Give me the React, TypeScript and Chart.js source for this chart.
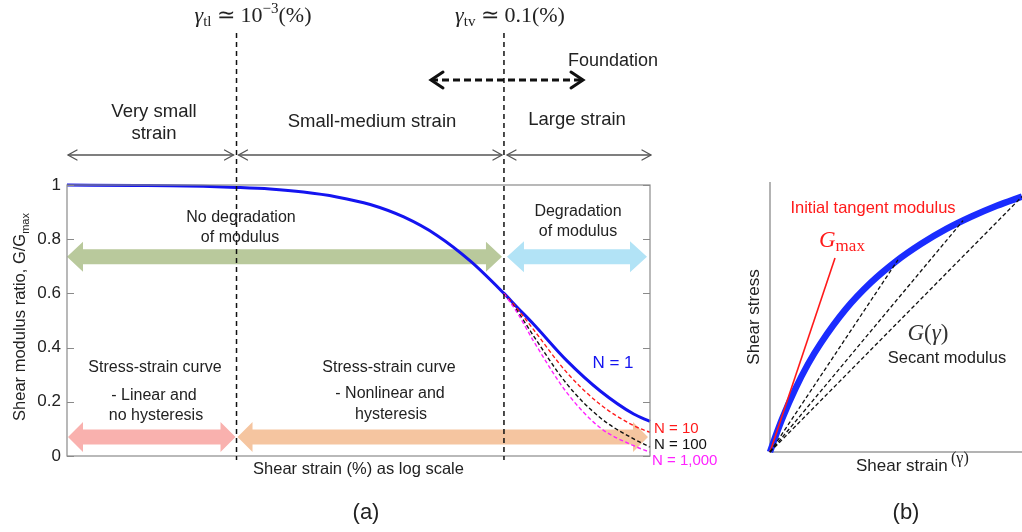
import { useEffect, useRef } from "react";
import { Chart, registerables } from "chart.js";

Chart.register(...registerables);

// ---------- Panel (a): modulus degradation curve, strain in % (log axis) ----------
const strainMin = 5.4e-5;
const strainMax = 1.236;
const strainN1 = [5.4e-5, 1.78e-4, 3.16e-4, 5.62e-4, 1e-3, 1.78e-3, 3.16e-3, 5.62e-3, 0.01, 0.0178, 0.0316, 0.0562, 0.1, 0.126, 0.166, 0.295, 0.525, 0.933, 1.236];
const ratioN1 = [1.0, 0.998, 0.997, 0.995, 0.991, 0.985, 0.974, 0.956, 0.928, 0.882, 0.814, 0.719, 0.6, 0.548, 0.487, 0.352, 0.24, 0.155, 0.128];
const strainCyclic = [0.1, 0.126, 0.166, 0.295, 0.525, 0.933, 1.236];
const ratioN10 = [0.6, 0.543, 0.467, 0.308, 0.19, 0.112, 0.087];
const ratioN100 = [0.6, 0.535, 0.444, 0.266, 0.141, 0.063, 0.033];
const ratioN1000 = [0.6, 0.528, 0.425, 0.234, 0.104, 0.038, 0.014];
const ratioTicks = [0, 0.2, 0.4, 0.6, 0.8, 1];
const thresholdStrains = [1e-3, 0.1];

// ---------- Panel (b): backbone stress-strain curve ----------
const backboneStrain = [0, 0.025, 0.05, 0.1, 0.15, 0.2, 0.3, 0.4, 0.5, 0.6, 0.7, 0.8, 0.9, 1.0];
const backboneStress = [0, 0.066, 0.127, 0.233, 0.324, 0.401, 0.528, 0.627, 0.706, 0.771, 0.826, 0.872, 0.912, 0.946];
const tangentStrain = [0, 0.258];
const tangentStress = [0, 0.7185];
const secantStrain = [0.508, 0.766, 1.0];
const secantStress = [0.712, 0.857, 0.946];

const SANS = '"Liberation Sans", Arial, sans-serif';
const SERIF = '"Liberation Serif", "Times New Roman", serif';

type Part = { t: string; font: string; dy?: number; color?: string };

function richWidth(ctx: CanvasRenderingContext2D, parts: Part[]) {
  let w = 0;
  for (const p of parts) {
    ctx.font = p.font;
    w += ctx.measureText(p.t).width;
  }
  return w;
}

function drawRich(ctx: CanvasRenderingContext2D, parts: Part[], x: number, baseline: number, align: "center" | "left" = "center", color = "#222") {
  const total = richWidth(ctx, parts);
  let cx = align === "center" ? x - total / 2 : x;
  ctx.save();
  ctx.textAlign = "left";
  ctx.textBaseline = "alphabetic";
  for (const p of parts) {
    ctx.font = p.font;
    ctx.fillStyle = p.color || color;
    ctx.fillText(p.t, cx, baseline + (p.dy || 0));
    cx += ctx.measureText(p.t).width;
  }
  ctx.restore();
}

function text(ctx: CanvasRenderingContext2D, s: string, x: number, y: number, size: number, color = "#222", align: CanvasTextAlign = "center") {
  ctx.save();
  ctx.font = `${size}px ${SANS}`;
  ctx.fillStyle = color;
  ctx.textAlign = align;
  ctx.textBaseline = "middle";
  ctx.fillText(s, x, y);
  ctx.restore();
}

function fatArrow(ctx: CanvasRenderingContext2D, x1: number, x2: number, y: number, shaft: number, head: number, headLen: number, color: string) {
  const s = shaft / 2;
  const h = head / 2;
  ctx.save();
  ctx.fillStyle = color;
  ctx.beginPath();
  ctx.moveTo(x1, y);
  ctx.lineTo(x1 + headLen, y - h);
  ctx.lineTo(x1 + headLen, y - s);
  ctx.lineTo(x2 - headLen, y - s);
  ctx.lineTo(x2 - headLen, y - h);
  ctx.lineTo(x2, y);
  ctx.lineTo(x2 - headLen, y + h);
  ctx.lineTo(x2 - headLen, y + s);
  ctx.lineTo(x1 + headLen, y + s);
  ctx.lineTo(x1 + headLen, y + h);
  ctx.closePath();
  ctx.fill();
  ctx.restore();
}

function lineArrow(ctx: CanvasRenderingContext2D, x1: number, x2: number, y: number, len: number, spread: number, width: number, color: string, dash: number[] = []) {
  ctx.save();
  ctx.strokeStyle = color;
  ctx.lineWidth = width;
  ctx.setLineDash(dash);
  ctx.beginPath();
  ctx.moveTo(x1, y);
  ctx.lineTo(x2, y);
  ctx.stroke();
  ctx.setLineDash([]);
  ctx.lineCap = "round";
  ctx.lineJoin = "miter";
  ctx.beginPath();
  ctx.moveTo(x1 + len, y - spread);
  ctx.lineTo(x1, y);
  ctx.lineTo(x1 + len, y + spread);
  ctx.moveTo(x2 - len, y - spread);
  ctx.lineTo(x2, y);
  ctx.lineTo(x2 - len, y + spread);
  ctx.stroke();
  ctx.restore();
}

const A_WIDTH = 745;
const B_LEFT = 745;
const B_WIDTH = 1022 - B_LEFT;
const HEIGHT = 532;

const degradationDecor = {
  id: "degradationDecor",
  beforeDatasetsDraw(chart: any) {
    const ctx: CanvasRenderingContext2D = chart.ctx;
    const xs = chart.scales.x;
    const ys = chart.scales.y;
    const area = chart.chartArea;
    const xTl = xs.getPixelForValue(thresholdStrains[0]);
    const xTv = xs.getPixelForValue(thresholdStrains[1]);
    const yUpper = ys.getPixelForValue(0.735);
    const yLower = ys.getPixelForValue(0.07);
    fatArrow(ctx, area.left, xTv - 2, yUpper, 15, 30, 16, "#b9c99c");
    fatArrow(ctx, xTv + 3, area.right - 3, yUpper, 15, 31, 17, "#b2e3f6");
    fatArrow(ctx, area.left + 1, xTl - 1, yLower, 15, 30, 15, "#f9b1ae");
    fatArrow(ctx, xTl + 1, area.right - 2, yLower, 15, 30, 15, "#f5c5a0");
  },
  afterDatasetsDraw(chart: any) {
    const ctx: CanvasRenderingContext2D = chart.ctx;
    const xs = chart.scales.x;
    const ys = chart.scales.y;
    const area = chart.chartArea;
    const xTl = xs.getPixelForValue(thresholdStrains[0]);
    const xTv = xs.getPixelForValue(thresholdStrains[1]);

    // frame and inward tick marks
    ctx.save();
    ctx.strokeStyle = "#8a8a8a";
    ctx.lineWidth = 1.2;
    ctx.strokeRect(area.left, area.top, area.right - area.left, area.bottom - area.top);
    ctx.beginPath();
    for (const v of ratioTicks) {
      const y = Math.round(ys.getPixelForValue(v)) + 0.5;
      ctx.moveTo(area.left, y);
      ctx.lineTo(area.left + 7, y);
      ctx.moveTo(area.right, y);
      ctx.lineTo(area.right - 7, y);
    }
    ctx.stroke();
    ctx.restore();

    // strain threshold lines
    ctx.save();
    ctx.strokeStyle = "#111";
    ctx.lineWidth = 1.5;
    ctx.setLineDash([5, 4]);
    for (const x of [xTl, xTv]) {
      ctx.beginPath();
      ctx.moveTo(x, 33);
      ctx.lineTo(x, 460);
      ctx.stroke();
    }
    ctx.restore();

    // threshold labels
    const big = `22px ${SERIF}`;
    const bigIt = `italic 22px ${SERIF}`;
    const small = `15px ${SERIF}`;
    drawRich(ctx, [
      { t: "γ", font: bigIt },
      { t: "tl", font: small, dy: 4 },
      { t: " ≃ 10", font: big },
      { t: "−3", font: small, dy: -9 },
      { t: "(%)", font: big },
    ], 253, 22);
    drawRich(ctx, [
      { t: "γ", font: bigIt },
      { t: "tv", font: small, dy: 4 },
      { t: " ≃ 0.1(%)", font: big },
    ], 510, 22);

    // strain ranges
    lineArrow(ctx, area.left + 1, xTl - 3, 155, 9, 5, 1.3, "#555");
    lineArrow(ctx, xTl + 2, xTv - 2, 155, 9, 5, 1.3, "#555");
    lineArrow(ctx, xTv + 3, area.right + 1, 155, 9, 5, 1.3, "#555");
    text(ctx, "Very small", 154, 112, 18.5);
    text(ctx, "strain", 154, 134, 18.5);
    text(ctx, "Small-medium strain", 372, 122, 18.5);
    text(ctx, "Large strain", 577, 120, 18.5);

    // foundation range
    lineArrow(ctx, 431, 583, 80, 12, 8, 3, "#111", [7, 4]);
    text(ctx, "Foundation", 613, 61, 18);

    // region notes
    text(ctx, "No degradation", 241, 218, 16);
    text(ctx, "of modulus", 240, 238, 16);
    text(ctx, "Degradation", 578, 212, 16);
    text(ctx, "of modulus", 578, 232, 16);
    text(ctx, "Stress-strain curve", 155, 368, 16);
    text(ctx, "- Linear and", 154, 396, 16);
    text(ctx, "no hysteresis", 156, 416, 16);
    text(ctx, "Stress-strain curve", 389, 368, 16);
    text(ctx, "- Nonlinear and", 390, 394, 16);
    text(ctx, "hysteresis", 391, 415, 16);

    // cycle count labels
    text(ctx, "N = 1", 613, 363, 17, "#1414f0");
    text(ctx, "N = 10", 654, 429, 15, "#ff1a1a", "left");
    text(ctx, "N = 100", 654, 445, 15, "#111", "left");
    text(ctx, "N = 1,000", 652, 461, 15, "#ff22ff", "left");

    // axis titles
    text(ctx, "Shear strain (%) as log scale", (area.left + area.right) / 2, 469, 16.5);
    ctx.save();
    ctx.translate(19, 317);
    ctx.rotate(-Math.PI / 2);
    drawRich(ctx, [
      { t: "Shear modulus ratio, G/G", font: `16.5px ${SANS}` },
      { t: "max", font: `11px ${SANS}`, dy: 4 },
    ], 0, 6);
    ctx.restore();

    text(ctx, "(a)", 366, 513, 22);
  },
};

const stressStrainDecor = {
  id: "stressStrainDecor",
  beforeDatasetsDraw(chart: any) {
    const ctx: CanvasRenderingContext2D = chart.ctx;
    const area = chart.chartArea;
    ctx.save();
    ctx.strokeStyle = "#9a9a9a";
    ctx.lineWidth = 1.5;
    ctx.beginPath();
    ctx.moveTo(area.left, area.top);
    ctx.lineTo(area.left, area.bottom);
    ctx.lineTo(B_WIDTH, area.bottom);
    ctx.stroke();
    ctx.restore();
  },
  afterDatasetsDraw(chart: any) {
    const ctx: CanvasRenderingContext2D = chart.ctx;
    ctx.save();
    ctx.translate(-B_LEFT, 0);
    text(ctx, "Initial tangent modulus", 873, 208, 16.5, "#ff1a1a");
    drawRich(ctx, [
      { t: "G", font: `italic 23px ${SERIF}`, color: "#ff1a1a" },
      { t: "max", font: `17px ${SERIF}`, dy: 4, color: "#ff1a1a" },
    ], 819, 247, "left");
    drawRich(ctx, [
      { t: "G", font: `italic 23px ${SERIF}` },
      { t: "(", font: `23px ${SERIF}` },
      { t: "γ", font: `italic 23px ${SERIF}` },
      { t: ")", font: `23px ${SERIF}` },
    ], 928, 340, "center", "#333");
    text(ctx, "Secant modulus", 947, 358, 16.5);
    text(ctx, "Shear strain", 856, 466, 17, "#222", "left");
    drawRich(ctx, [{ t: "(γ)", font: `16px ${SERIF}` }], 951, 463, "left", "#222");
    ctx.save();
    ctx.translate(754, 317);
    ctx.rotate(-Math.PI / 2);
    text(ctx, "Shear stress", 0, 0, 17);
    ctx.restore();
    text(ctx, "(b)", 906, 513, 22);
    ctx.restore();
  },
};

function pts(xv: number[], yv: number[]) {
  return xv.map((x, i) => ({ x, y: yv[i] }));
}

export default function App() {
  const refA = useRef<HTMLCanvasElement>(null);
  const refB = useRef<HTMLCanvasElement>(null);

  useEffect(() => {
    const curve = (data: any[], color: string, width: number, dash: number[] = []) => ({
      data,
      borderColor: color,
      borderWidth: width,
      borderDash: dash,
      pointRadius: 0,
      fill: false,
      cubicInterpolationMode: "monotone" as const,
      clip: 6,
    });

    const chartA = new Chart(refA.current!, {
      type: "line",
      data: {
        datasets: [
          curve(pts(strainCyclic, ratioN1000), "#ff22ff", 1.4, [4, 2.5]),
          curve(pts(strainCyclic, ratioN100), "#111111", 1.4, [4, 2.5]),
          curve(pts(strainCyclic, ratioN10), "#ff1a1a", 1.4, [4, 2.5]),
          curve(pts(strainN1, ratioN1), "#1414f0", 3),
        ],
      },
      options: {
        responsive: false,
        animation: false,
        devicePixelRatio: 1,
        layout: { padding: { left: 0, top: 185, right: A_WIDTH - 650, bottom: HEIGHT - 456 } },
        plugins: { legend: { display: false }, tooltip: { enabled: false } },
        scales: {
          x: { type: "logarithmic", min: strainMin, max: strainMax, display: false },
          y: {
            type: "linear",
            min: 0,
            max: 1,
            afterFit: (s: any) => {
              s.width = 67;
            },
            afterBuildTicks: (s: any) => {
              s.ticks = ratioTicks.map((v) => ({ value: v }));
            },
            grid: { display: false, drawTicks: false },
            border: { display: false },
            ticks: {
              padding: 6,
              color: "#222",
              font: { family: SANS, size: 17 },
              callback: (v: any) => String(v),
            },
          },
        },
      },
      plugins: [degradationDecor],
    });

    const chartB = new Chart(refB.current!, {
      type: "line",
      data: {
        datasets: [
          ...secantStrain.map((sx, i) =>
            curve(pts([0, sx], [0, secantStress[i]]), "#111111", 1.3, [4, 2.5])
          ),
          { ...curve(pts(tangentStrain, tangentStress), "#ff1a1a", 1.6), cubicInterpolationMode: "default" as const },
          curve(pts(backboneStrain, backboneStress), "#1a2cff", 6.5),
        ],
      },
      options: {
        responsive: false,
        animation: false,
        devicePixelRatio: 1,
        layout: { padding: { left: 770 - B_LEFT, top: 182, right: 0, bottom: HEIGHT - 452 } },
        plugins: { legend: { display: false }, tooltip: { enabled: false } },
        scales: {
          x: { type: "linear", min: 0, max: 1, display: false },
          y: { type: "linear", min: 0, max: 1, display: false },
        },
      },
      plugins: [stressStrainDecor],
    });

    return () => {
      chartA.destroy();
      chartB.destroy();
    };
  }, []);

  return (
    <div style={{ position: "absolute", left: 0, top: 0, width: 1022, height: HEIGHT, background: "#fff", overflow: "hidden" }}>
      <canvas ref={refA} width={A_WIDTH} height={HEIGHT} style={{ position: "absolute", left: 0, top: 0, width: A_WIDTH, height: HEIGHT }} />
      <canvas ref={refB} width={B_WIDTH} height={HEIGHT} style={{ position: "absolute", left: B_LEFT, top: 0, width: B_WIDTH, height: HEIGHT }} />
    </div>
  );
}
